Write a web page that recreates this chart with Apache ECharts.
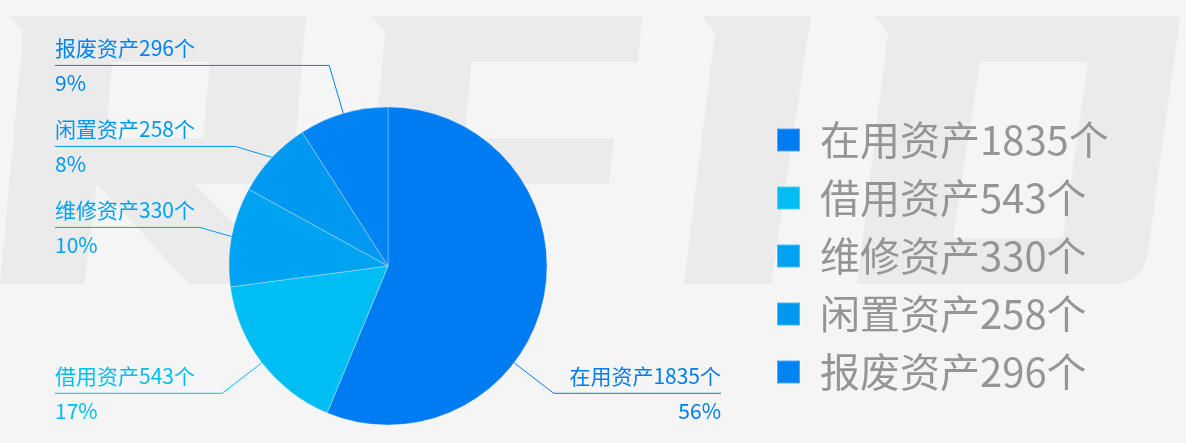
<!DOCTYPE html>
<html>
<head>
<meta charset="utf-8">
<script src="https://cdn.jsdelivr.net/npm/echarts@6/dist/echarts.min.js"></script>
<style>
  html, body { margin: 0; padding: 0; background: #f5f5f5; }
  #chart { width: 1186px; height: 443px; }
</style>
</head>
<body>
<div id="chart"></div>
<script>
// ---- data ----
const categories = ['在用资产', '借用资产', '维修资产', '闲置资产', '报废资产'];
const counts = [1835, 543, 330, 258, 296];
const unit = '个';
const colors = ['#007cf3', '#00bef4', '#00a3f1', '#0098f1', '#0084f3'];

const names = categories.map((c, i) => c + counts[i] + unit);
const pieData = names.map((n, i) => ({ name: n, value: counts[i] }));

// ---- decorative "RFID" watermark (background art, not data) ----
const WM = '#ebebeb', BG = '#f5f5f5';
const wmShapes = [
  { fill: WM, pts: [[10,16],[306,16],[292,184],[195,184],[295,284],[189,284],[97,184],[84,284],[0,284],[23,33]] },
  { fill: BG, pts: [[112,62],[210,62],[203,138],[106,138]] },
  { fill: WM, pts: [[372,16],[642,16],[638,62],[471,62],[465,138],[614,138],[609,184],[461,184],[451,284],[362,284],[385,33]] },
  { fill: WM, pts: [[703,16],[811,16],[771,284],[684,284],[715,33]] },
  { fill: WM, pts: [[875,16],[1180,16],[1147,258],[1141,271],[1131,280],[1116,284],[857,284],[888,33]] },
  { fill: BG, pts: [[980,62],[1088,62],[1063,238],[953,238]] }
];
const graphics = wmShapes.map((s, i) => ({
  type: 'polygon',
  silent: true,
  z: s.fill === BG ? -9 : -10,
  shape: { points: s.pts },
  style: { fill: s.fill }
}));

// ---- pie layout settings ----
const SERIES_W = 776;
const CX = SERIES_W / 2, CY = 266, R = 159, LINE_LEN = 50;

const chart = echarts.init(document.getElementById('chart'));

const leftLineY = {};
let pass = 0;

function labelLayout(params) {
  const rect = params.labelRect;
  const pts = params.labelLinePoints;
  if (!pts) return {};
  const isLeft = rect.x + rect.width / 2 < CX;
  if (isLeft) {
    leftLineY[params.dataIndex] = pts[1][1];
    pts[2][0] = rect.x;
    return { labelLinePoints: pts };
  }
  // right side: align with the lowest label on the left side
  const ys = Object.values(leftLineY);
  if (pass > 0 && ys.length) {
    const ty = Math.max.apply(null, ys);
    const s = Math.max(-1, Math.min(1, (ty - CY) / (R + LINE_LEN)));
    const c = Math.sqrt(1 - s * s);
    const p0 = [CX + R * c, CY + R * s];
    const p1 = [CX + (R + LINE_LEN) * c, ty];
    const p2 = [rect.x + rect.width, ty];
    return { y: ty, labelLinePoints: [p0, p1, p2] };
  }
  pts[2][0] = rect.x + rect.width;
  return { labelLinePoints: pts };
}

const option = {
  backgroundColor: '#f5f5f5',
  color: colors,
  animation: false,
  graphic: graphics,
  legend: {
    orient: 'vertical',
    left: 776,
    top: 120,
    padding: 0,
    itemWidth: 23,
    itemHeight: 23,
    itemGap: 18,
    icon: 'rect',
    textStyle: {
      fontSize: 40,
      lineHeight: 40,
      color: '#959595',
      fontFamily: '"Noto Sans CJK SC"',
      padding: [0, 0, 0, 15]
    },
    data: names
  },
  series: [{
    type: 'pie',
    left: 0,
    top: 0,
    width: SERIES_W,
    height: 443,
    center: ['50%', CY],
    radius: R,
    startAngle: 90,
    clockwise: true,
    percentPrecision: 0,
    itemStyle: {
      borderColor: 'rgba(255,255,255,0.3)',
      borderWidth: 1
    },
    label: {
      show: true,
      position: 'outer',
      alignTo: 'edge',
      edgeDistance: 55,
      minMargin: 11,
      overflow: 'none',
      formatter: '{b}\n{d}%',
      fontSize: 21,
      lineHeight: 35,
      color: 'inherit',
      fontFamily: '"Noto Sans CJK SC"'
    },
    labelLine: {
      show: true,
      length: LINE_LEN,
      length2: 0,
      maxSurfaceAngle: 80,
      lineStyle: { width: 1 }
    },
    labelLayout: labelLayout,
    emphasis: { disabled: true },
    data: pieData
  }]
};
chart.setOption(option);
pass = 1;
chart.setOption(option, true);
</script>
</body>
</html>
